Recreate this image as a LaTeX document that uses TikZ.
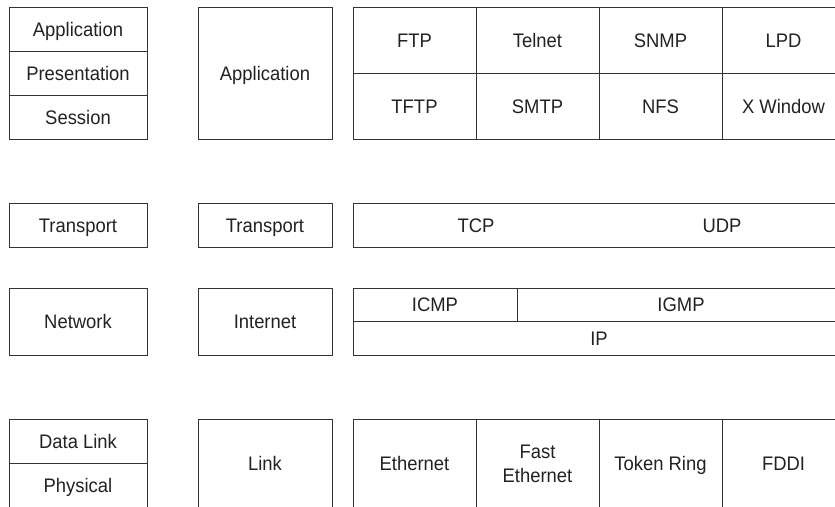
\documentclass[tikz,border=0pt]{standalone}
\usepackage{fontspec}
\setmainfont{Liberation Sans}[FakeStretch=0.94]
\definecolor{linec}{HTML}{333333}
\definecolor{textc}{HTML}{222222}
\begin{document}
\begin{tikzpicture}[x=1pt,y=-1pt,
  cell/.style={draw=linec, line width=1pt, rectangle, inner sep=0pt, text=textc,
    font=\fontsize{19.6}{24}\selectfont, align=center, text height=14pt, text depth=0pt},
  lbl/.style={inner sep=0pt, text=textc, font=\fontsize{19.6}{24}\selectfont,
    text height=14pt, text depth=0pt}]
\clip (0,0) rectangle (835,506);
\fill[white] (0,0) rectangle (835,506);
% OSI column
\node[cell, minimum width=138pt, minimum height=44pt] (osiapp) at (78,29) {Application};
\node[cell, minimum width=138pt, minimum height=44pt] (osipres) at (78,73) {Presentation};
\node[cell, minimum width=138pt, minimum height=44pt] (osisess) at (78,117) {Session};
\node[cell, minimum width=138pt, minimum height=44pt] (ositrans) at (78,225) {Transport};
\node[cell, minimum width=138pt, minimum height=67pt] (osinet) at (78,321.5) {Network};
\node[cell, minimum width=138pt, minimum height=44pt] (osidl) at (78,441) {Data Link};
\node[cell, minimum width=138pt, minimum height=44pt] (osiphys) at (78,485) {Physical};
% DoD column
\node[cell, minimum width=134pt, minimum height=132pt] (dodapp) at (265,73) {Application};
\node[cell, minimum width=134pt, minimum height=44pt] (dodtrans) at (265,225) {Transport};
\node[cell, minimum width=134pt, minimum height=67pt] (dodinet) at (265,321.5) {Internet};
\node[cell, minimum width=134pt, minimum height=88pt] (dodlink) at (265,463) {Link};
% Protocols: application
\node[cell, minimum width=123pt, minimum height=66pt] (ftp) at (414.5,40) {FTP};
\node[cell, minimum width=123pt, minimum height=66pt] (telnet) at (537.5,40) {Telnet};
\node[cell, minimum width=123pt, minimum height=66pt] (snmp) at (660.5,40) {SNMP};
\node[cell, minimum width=123pt, minimum height=66pt] (lpd) at (783.5,40) {LPD};
\node[cell, minimum width=123pt, minimum height=66pt] (tftp) at (414.5,106) {TFTP};
\node[cell, minimum width=123pt, minimum height=66pt] (smtp) at (537.5,106) {SMTP};
\node[cell, minimum width=123pt, minimum height=66pt] (nfs) at (660.5,106) {NFS};
\node[cell, minimum width=123pt, minimum height=66pt] (xwin) at (783.5,106) {X Window};
% transport
\node[cell, minimum width=492pt, minimum height=44pt] (tbox) at (599,225) {};
\node[lbl] (tcp) at (476,225) {TCP};
\node[lbl] (udp) at (722,225) {UDP};
% internet
\node[cell, minimum width=164pt, minimum height=33pt] (icmp) at (435,304.5) {ICMP};
\node[cell, minimum width=328pt, minimum height=33pt] (igmp) at (681,304.5) {IGMP};
\node[cell, minimum width=492pt, minimum height=34pt] (ip) at (599,338) {IP};
% link
\node[cell, minimum width=123pt, minimum height=88pt] (eth) at (414.5,463) {Ethernet};
\node[cell, minimum width=123pt, minimum height=88pt] (feth) at (537.5,463) {};
\node[lbl] (fast1) at (537.5,451) {Fast};
\node[lbl] (fast2) at (537.5,475) {Ethernet};
\node[cell, minimum width=123pt, minimum height=88pt] (tr) at (660.5,463) {Token Ring};
\node[cell, minimum width=123pt, minimum height=88pt] (fddi) at (783.5,463) {FDDI};
\end{tikzpicture}
\end{document}
